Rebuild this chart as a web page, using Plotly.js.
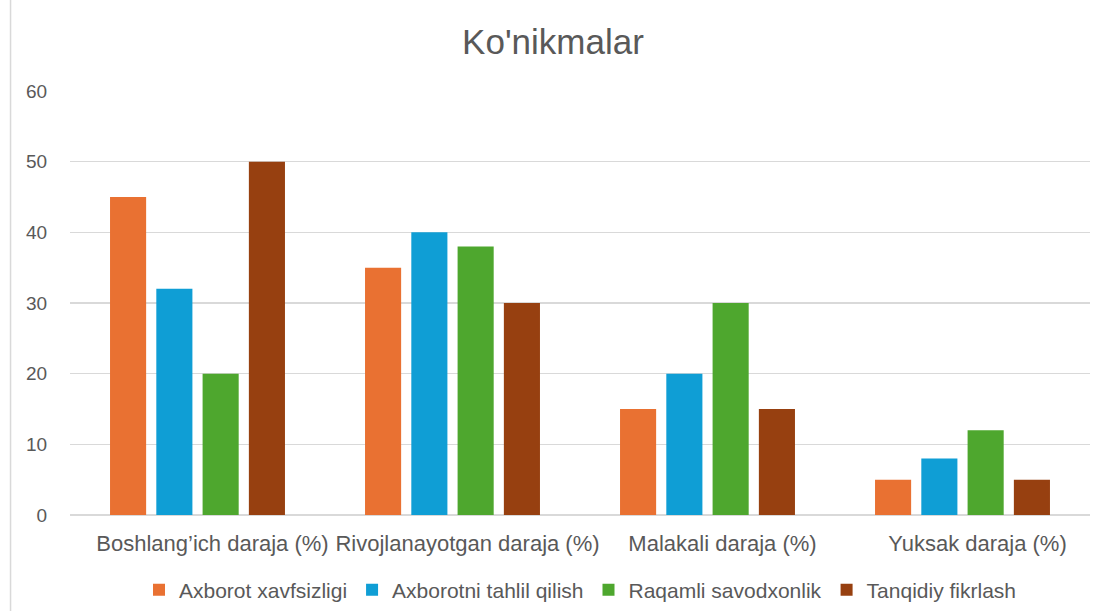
<!DOCTYPE html>
<html>
<head>
<meta charset="utf-8">
<script src="https://cdn.plot.ly/plotly-3.0.1.min.js"></script>
<style>html,body{margin:0;padding:0;background:#fff;}#chart{width:1106px;height:611px;}</style>
</head>
<body>
<div id="chart"></div>
<script>
const categories = ["Boshlang\u2019ich daraja (%)", "Rivojlanayotgan daraja (%)", "Malakali daraja (%)", "Yuksak daraja (%)"];
const seriesNames = ["Axborot xavfsizligi", "Axborotni tahlil qilish", "Raqamli savodxonlik", "Tanqidiy fikrlash"];
const axborotXavfsizligi = [45, 35, 15, 5];
const axborotniTahlil = [32, 40, 20, 8];
const raqamliSavodxonlik = [20, 38, 30, 12];
const tanqidiyFikrlash = [50, 30, 15, 5];
const yTicks = [0, 10, 20, 30, 40, 50, 60];

const colors = ["#E97132", "#0F9ED5", "#4EA72E", "#974010"];
const values = [axborotXavfsizligi, axborotniTahlil, raqamliSavodxonlik, tanqidiyFikrlash];
const traces = values.map((v, i) => ({
  type: "bar", name: seriesNames[i], x: categories, y: v,
  marker: {color: colors[i]}, hoverinfo: "y+name"
}));

const font = {family: "Liberation Sans, Arial, sans-serif", color: "#595959"};
const layout = {
  width: 1106, height: 611,
  margin: {l: 70, r: 16, t: 91, b: 96, autoexpand: false},
  paper_bgcolor: "#fff", plot_bgcolor: "#fff",
  font: font,
  title: {text: "Ko'nikmalar", x: 0.5, xanchor: "center", y: 0.931, yanchor: "middle",
    font: {family: font.family, size: 35, color: "#595959"}},
  barmode: "group", bargap: 0.274, bargroupgap: 0.22,
  xaxis: {type: "category", showgrid: false, zeroline: false, showline: false, automargin: false,
    ticks: "outside", ticklen: 9, tickcolor: "rgba(0,0,0,0)", ticklabelshift: 15,
    tickfont: {family: font.family, size: 22, color: "#595959"}},
  yaxis: {range: [0, 60], tickvals: yTicks, showgrid: true, gridcolor: "#D9D9D9", gridwidth: 1.5,
    zeroline: true, zerolinecolor: "#D9D9D9", zerolinewidth: 1.5, showline: false, automargin: false,
    ticks: "outside", ticklen: 18, tickcolor: "rgba(0,0,0,0)",
    tickfont: {family: font.family, size: 19, color: "#595959"}},
  legend: {orientation: "h", x: 0.5, xanchor: "center", y: -0.177, yanchor: "middle",
    font: {family: font.family, size: 21, color: "#595959"}, itemwidth: 30, tracegroupgap: 0},
  shapes: [{type: "line", xref: "paper", yref: "paper", x0: -0.0583, x1: -0.0583, y0: 1.22, y1: -0.24,
    line: {color: "#D9D9D9", width: 1.5}}],
  showlegend: true
};
Plotly.newPlot("chart", traces, layout, {displayModeBar: false, staticPlot: true});
</script>
</body>
</html>
